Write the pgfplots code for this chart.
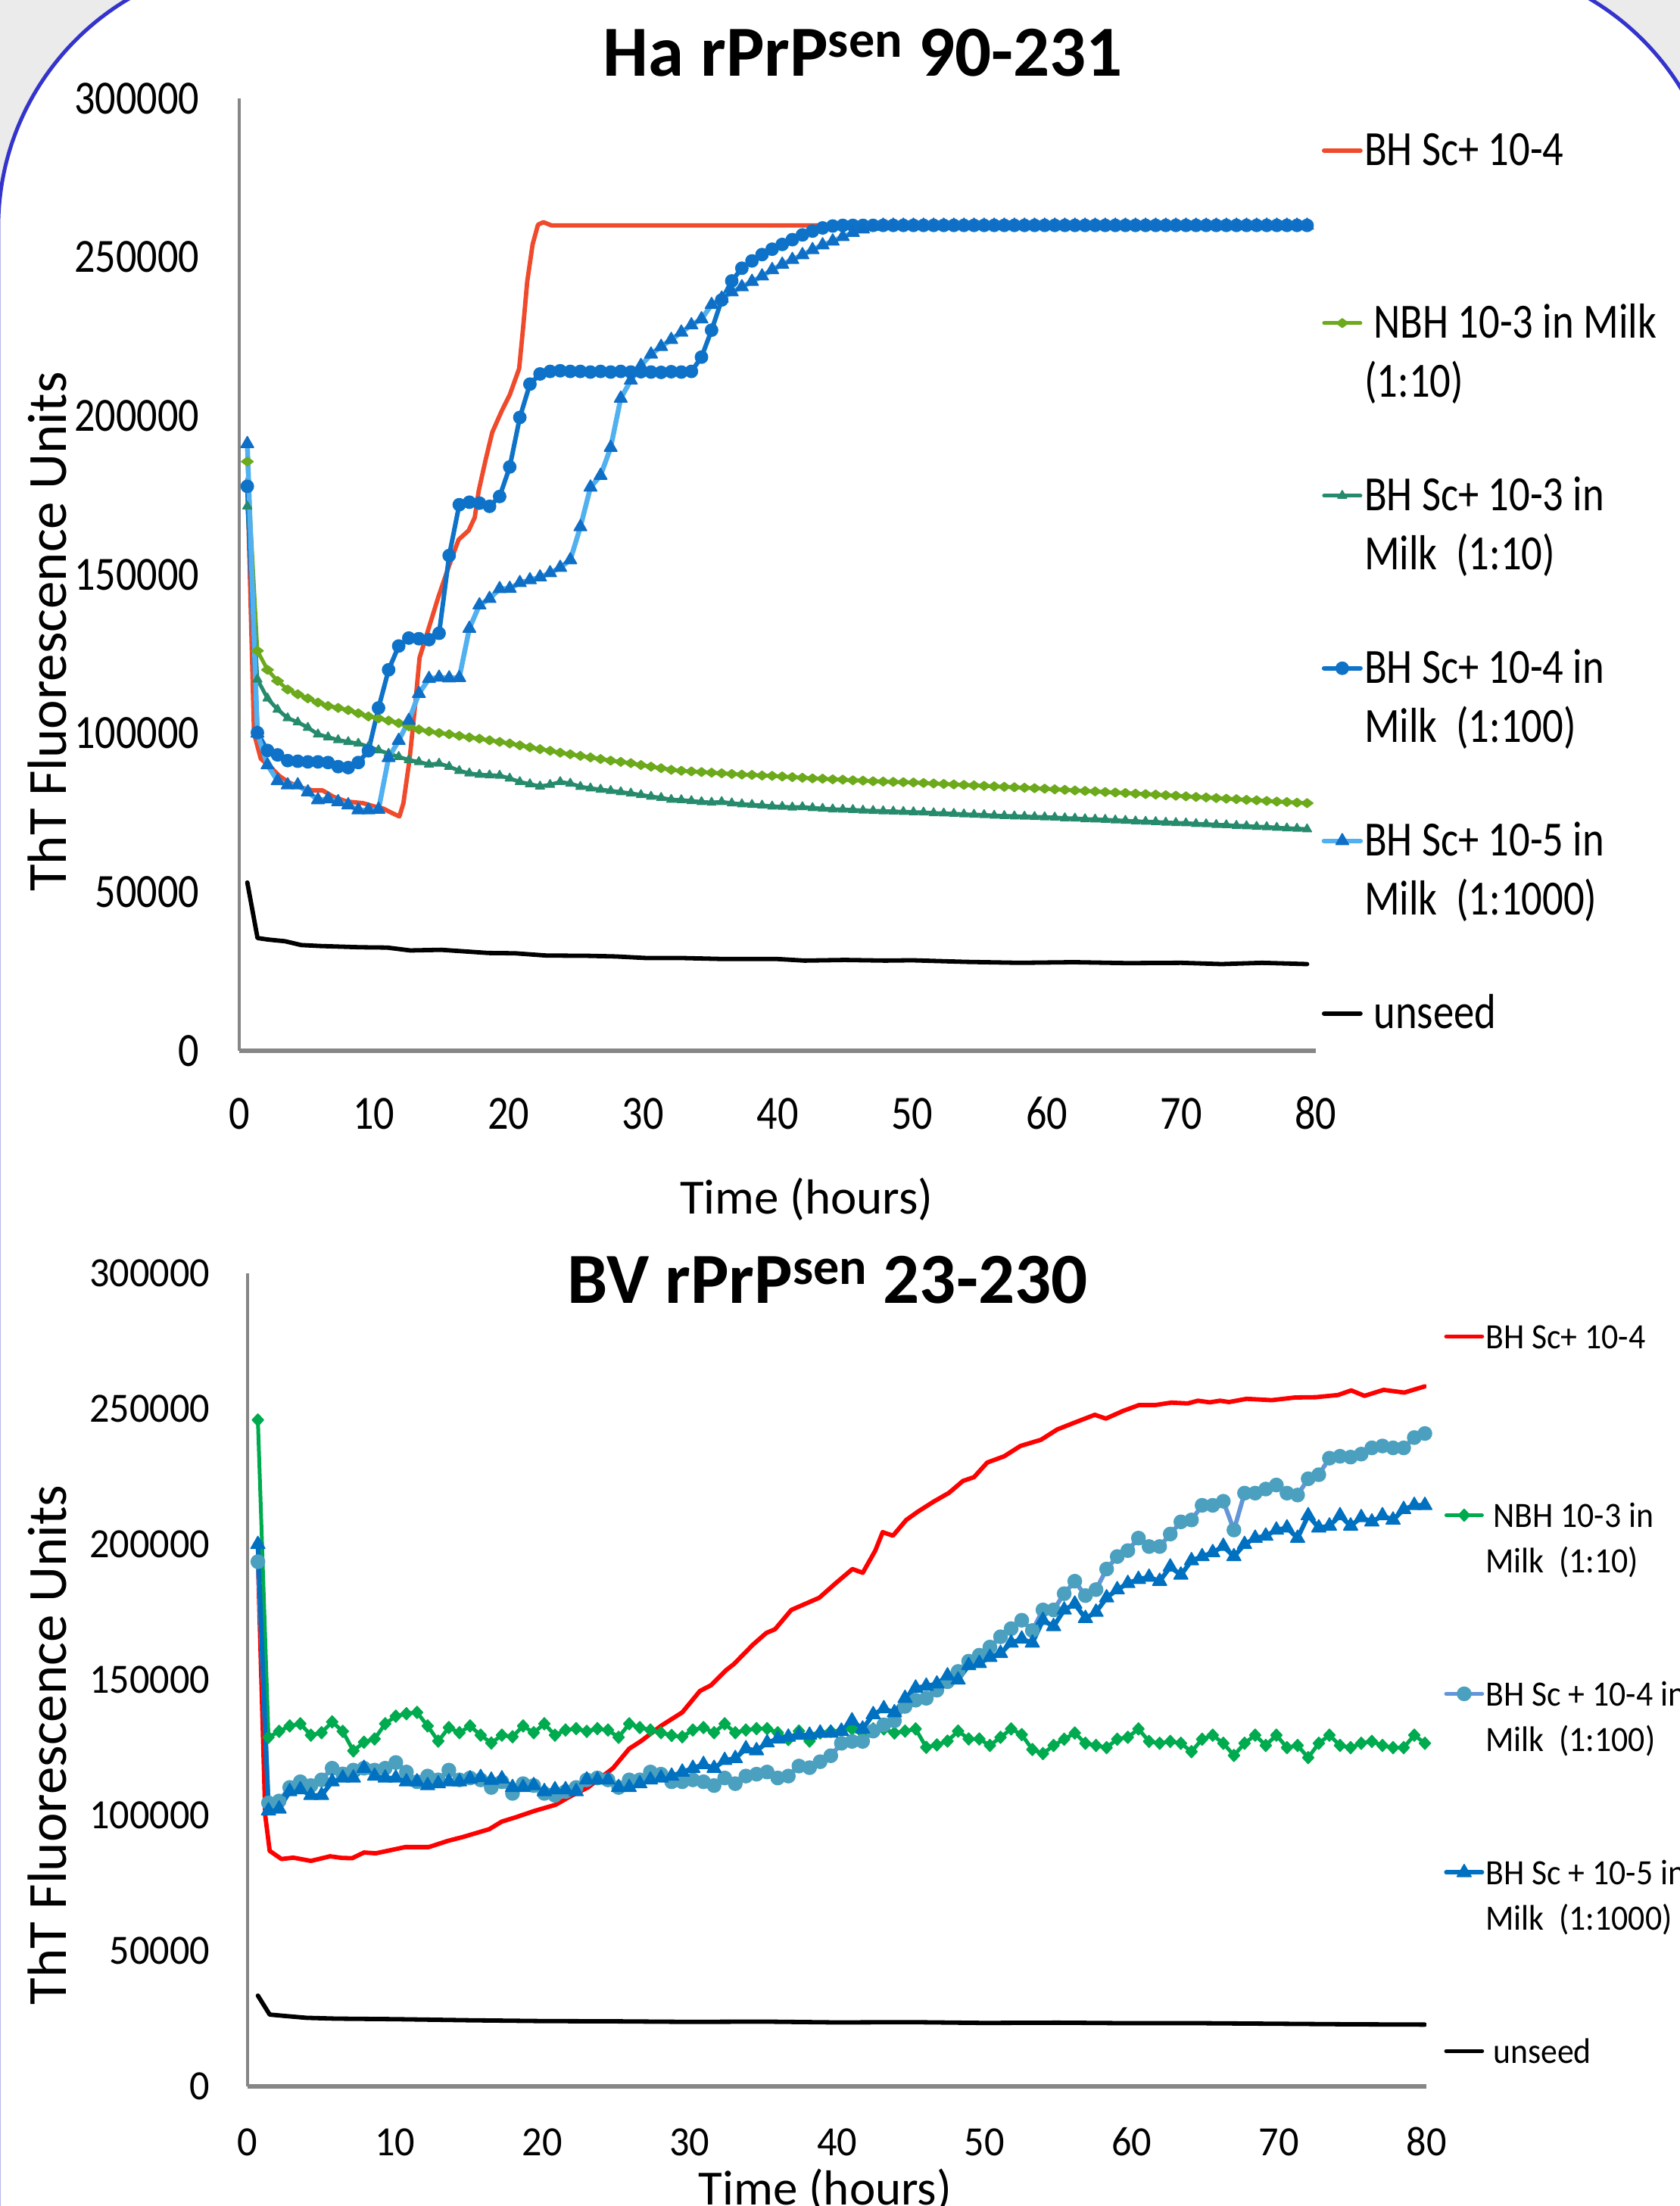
\documentclass[border=0pt]{standalone}
\usepackage{fontspec}
\setmainfont{Carlito}
\newfontfamily\tkA{Carlito}[FakeStretch=0.86]
\newfontfamily\tkB{Carlito}[FakeStretch=0.95]
\newfontfamily\lgA{Carlito}[FakeStretch=0.84]
\newfontfamily\lgB{Carlito}[FakeStretch=0.93]
\usepackage{pgfplots}
\pgfplotsset{compat=1.18}
\usepackage{pgfplotstable}

\definecolor{axgray}{HTML}{868686}
\definecolor{redA}{HTML}{EF4A2B}
\definecolor{ngA}{HTML}{6CAA1C}
\definecolor{dgA}{HTML}{268A6C}
\definecolor{bcA}{HTML}{0E73C8}
\definecolor{btlA}{HTML}{50B0F0}
\definecolor{btmA}{HTML}{0F6FC6}
\definecolor{redB}{HTML}{FF0000}
\definecolor{ngB}{HTML}{00AA4E}
\definecolor{bclB}{HTML}{6495D8}
\definecolor{bcmB}{HTML}{4BA0BF}
\definecolor{btB}{HTML}{0070C0}
\definecolor{bgG}{HTML}{EBEBEB}
\definecolor{frameC}{HTML}{3434CC}

\newcommand{\one}[1]{\vtop{\hbox{\strut #1}}}
\newcommand{\two}[2]{\vtop{\hbox{\strut #1}\hbox{\strut #2}}}

% top chart: t, NBH 10-3 in milk, BH Sc+ 10-3 in milk, BH Sc+ 10-4 in milk, BH Sc+ 10-5 in milk
\pgfplotstableread{
t ng dg bc bt
0.6 185600 171500 177800 191200
1.35 126000 117000 100200 100000
2.1 120000 111000 94600 90000
2.85 116500 107500 93200 85000
3.6 113800 104800 91400 83700
4.35 112300 103500 91200 83700
5.1 111000 101800 91000 81500
5.85 109700 99700 91000 79000
6.6 108600 98800 90800 79300
7.35 108000 97900 89500 78400
8.1 107300 97300 89200 77400
8.85 106300 96800 90800 75800
9.6 105300 95800 94500 75800
10.35 104700 94700 108000 76000
11.1 104000 93600 120000 92300
11.85 103200 92600 127500 97700
12.6 102200 91600 130000 104000
13.35 101200 91000 129800 112500
14.1 100600 90200 129500 117200
14.85 100100 90500 131500 117600
15.6 99700 89500 156000 117400
16.35 99200 88200 172000 117500
17.1 98700 87400 172800 133000
17.85 98300 87000 172500 140400
18.6 97800 86800 171500 142400
19.35 97300 86700 174600 145500
20.1 96800 85800 183900 145600
20.85 96200 84700 199500 147400
21.6 95600 84000 210000 148300
22.35 95000 83300 213200 149200
23.1 94500 83800 214000 150500
23.85 93900 84700 214200 152200
24.6 93400 84200 214000 154600
25.35 92900 83200 214000 165000
26.1 92400 82700 213800 177500
26.85 91900 82300 214000 181200
27.6 91400 81900 213800 190000
28.35 91000 81500 214000 205500
29.1 90600 81100 213800 211200
29.85 90000 80600 213900 215800
30.6 89500 80100 213800 219400
31.35 89000 79700 213700 221800
32.1 88500 79100 213900 224000
32.85 88200 79000 213800 226300
33.6 88000 78700 214000 228600
34.35 87800 78400 218500 230500
35.1 87600 78200 227000 235000
35.85 87400 78400 236500 237000
36.6 87200 78000 242500 239000
37.35 87000 77700 246500 240600
38.1 86900 77500 248800 242300
38.85 86700 77300 250800 244000
39.6 86600 77000 252500 246000
40.35 86400 76900 254000 247700
41.1 86200 76700 255500 249200
41.85 86000 76800 257000 250700
42.6 85800 76500 258200 252300
43.35 85700 76300 259200 253800
44.1 85500 76100 259800 255000
44.85 85400 76000 260000 256400
45.6 85200 75900 260000 257700
46.35 85100 75700 260000 258800
47.1 84900 75600 260000 259600
47.85 84800 75500 260000 260000
48.6 84700 75400 260000 260000
49.35 84600 75300 260000 260000
50.1 84500 75200 260000 260000
50.85 84350 75100 260000 260000
51.6 84200 74900 260000 260000
52.35 84050 74800 260000 260000
53.1 83900 74700 260000 260000
53.85 83750 74500 260000 260000
54.6 83600 74400 260000 260000
55.35 83450 74300 260000 260000
56.1 83300 74100 260000 260000
56.85 83150 74000 260000 260000
57.6 83000 73900 260000 260000
58.35 82850 73800 260000 260000
59.1 82700 73700 260000 260000
59.85 82550 73600 260000 260000
60.6 82350 73500 260000 260000
61.35 82200 73300 260000 260000
62.1 82000 73200 260000 260000
62.85 81850 73000 260000 260000
63.6 81700 72900 260000 260000
64.35 81500 72800 260000 260000
65.1 81350 72600 260000 260000
65.85 81200 72500 260000 260000
66.6 81000 72300 260000 260000
67.35 80850 72200 260000 260000
68.1 80700 72100 260000 260000
68.85 80500 71900 260000 260000
69.6 80350 71800 260000 260000
70.35 80150 71700 260000 260000
71.1 79950 71500 260000 260000
71.85 79800 71400 260000 260000
72.6 79600 71200 260000 260000
73.35 79400 71100 260000 260000
74.1 79250 70900 260000 260000
74.85 79050 70800 260000 260000
75.6 78900 70600 260000 260000
76.35 78700 70500 260000 260000
77.1 78500 70300 260000 260000
77.85 78350 70100 260000 260000
78.6 78150 70000 260000 260000
79.35 78000 69800 260000 260000
}\toptab

% bottom chart: t, NBH 10-3 in milk, BH Sc + 10-4 in milk, BH Sc + 10-5 in milk
\pgfplotstableread{
t g c tr
0.7 245900 193600 200000
1.42 128800 104600 101700
2.14 131000 105300 102400
2.86 133000 110300 108800
3.58 133800 112400 109500
4.3 129600 111000 107400
5.02 130500 113100 107400
5.74 134500 117400 112400
6.46 131000 115300 113800
7.18 123800 116700 113800
7.9 127000 117400 117400
8.62 128200 116700 114500
9.34 133800 117400 113800
10.06 136600 119500 113800
10.78 137500 116000 112400
11.5 138000 112400 112400
12.22 133000 114500 111000
12.94 127400 113100 111700
13.66 132400 116700 112400
14.38 130500 113100 112400
15.1 133000 113800 113500
15.82 129600 113100 114000
16.54 126700 110300 113000
17.26 129600 112400 113500
17.98 129000 108100 110300
18.7 133000 111700 110300
19.42 130500 111000 111000
20.14 133800 108100 108800
20.86 129600 107400 109500
21.58 131500 108800 109500
22.3 132000 110300 108800
23.02 131000 113100 113100
23.74 132000 113800 113100
24.46 131500 113100 113100
25.18 128800 110300 110300
25.9 133800 113100 110300
26.62 132400 113100 111700
27.34 131500 116000 113100
28.06 130500 115200 113800
28.78 129500 112400 114500
29.5 129000 112400 116000
30.22 131500 113100 117400
30.94 132400 112400 118800
31.66 130500 111000 117400
32.38 133800 113800 120300
33.1 130500 111700 121000
33.82 131500 114500 124600
34.54 132000 115200 123900
35.26 132000 116000 126800
35.98 130500 113800 128200
36.7 128000 114500 128900
37.42 131100 118200 129600
38.14 127400 117600 129600
38.86 130400 119800 130400
39.58 131000 122000 130400
40.3 131200 126600 131100
41.02 131900 127300 134900
41.74 130400 127300 131900
42.46 131900 131100 137200
43.18 131900 133400 139400
43.9 130400 134900 137900
44.62 131100 140200 143200
45.34 131900 142500 147000
46.06 125100 143200 147700
46.78 126000 146200 148500
47.5 127400 149300 151500
48.22 131100 153100 150000
48.94 128200 156900 155300
49.66 128200 159100 156100
50.38 125800 162100 158300
51.1 128800 165900 159800
51.82 131900 168900 163600
52.54 129800 172000 165100
53.26 124300 168200 163600
53.98 122800 175800 172000
54.7 125800 175800 169700
55.42 128100 181800 175800
56.14 130400 186400 178000
56.86 126600 181100 172700
57.58 125800 183300 175000
58.3 125000 190900 180300
59.02 128100 195500 183300
59.74 128800 197700 185600
60.46 131900 202300 187100
61.18 127300 199200 187900
61.9 126600 199200 186400
62.62 127300 203800 191700
63.34 126600 208300 188700
64.06 123500 209000 194000
64.78 128100 214400 195500
65.5 129600 214400 197000
66.22 126600 215900 199300
66.94 122100 205300 195500
67.66 126600 218900 200000
68.38 129600 218900 202300
69.1 125800 220400 203100
69.82 129600 221900 205300
70.54 125000 218900 206100
71.26 125800 218200 202300
71.98 121300 224200 210600
72.7 126600 225700 206100
73.42 129600 231800 206800
74.14 125800 232500 210600
74.86 125000 232200 206800
75.58 126600 233300 209900
76.3 127300 235600 208300
77.02 125800 236300 210600
77.74 125000 235600 209000
78.46 125000 235600 212900
79.18 129600 239400 214400
79.9 126600 240900 214400
}\bottab

\pgfplotsset{
  common/.style={
    scale only axis,
    xmin=0, xmax=80, ymin=0, ymax=300000,
    axis lines=left, axis line style={-},
    x axis line style={line width=0.057cm, draw=axgray, -},
    y axis line style={line width=0.045cm, draw=axgray, -},
    major tick length=0pt, tick style={draw=none},
    xtick={0,10,...,80}, ytick={0,50000,...,300000},
    scaled y ticks=false, scaled x ticks=false,
    /pgf/number format/fixed,
    /pgf/number format/precision=0,
    /pgf/number format/assume math mode=true,
    /pgf/number format/1000 sep={},
    xlabel={Time (hours)}, ylabel={ThT Fluorescence Units},
    every axis plot/.append style={line join=round, line cap=round},
  },
}

\begin{document}
\begin{tikzpicture}
\useasboundingbox (0,0) rectangle (22.19cm,29.14cm);
\fill[bgG] (0,0) rectangle (22.19cm,29.14cm);
\begin{scope}
\clip (0,0) rectangle (22.19cm,29.14cm);
\draw[frameC, line width=0.05cm, fill=white, rounded corners=3.5cm] (-0.022cm,-10cm) rectangle (22.72cm,29.64cm);
\end{scope}

% ---------------- top chart ----------------
\begin{axis}[common,
  at={(3.16cm,15.26cm)}, anchor=south west,
  width=14.22cm, height=12.58cm,
  ticklabel style={font=\tkA\fontsize{0.63cm}{0.75cm}\selectfont, inner sep=0pt},
  yticklabel style={anchor=east, xshift=-0.52cm},
  xticklabel style={anchor=base, yshift=-1.04cm},
  xlabel style={at={(axis description cs:0.527,-0.1717)}, anchor=base, inner sep=0pt,
    font=\fontsize{0.65cm}{0.75cm}\selectfont},
  ylabel style={at={(axis description cs:-0.161,0.44)}, anchor=base, inner sep=0pt,
    font=\fontsize{0.73cm}{0.8cm}\selectfont},
  title={Ha rPrP\raisebox{0.25cm}{\fontsize{0.68cm}{0.7cm}\selectfont sen} 90-231},
  title style={at={(axis description cs:0.5795,1.0064)}, anchor=base, inner sep=0pt,
    font=\bfseries\fontsize{0.95cm}{1cm}\selectfont},
  legend style={draw=none, fill=none, inner sep=0pt, column sep=0.02cm,
    row sep={2.28cm,between origins},
    nodes={inner sep=0pt, text depth=0pt}, cells={anchor=base west},
    at={(1.0049,0.9734)}, anchor=north west,
    font=\lgA\fontsize{0.65cm}{0.78cm}\selectfont},
  legend image code/.code={\draw[mark repeat=2,mark phase=2,#1]
    plot coordinates {(0cm,0.2cm) (0.24cm,0.2cm) (0.48cm,0.2cm)};},
]
\addplot[redA, line width=0.058cm, no marks] coordinates {
(0.6,180000) (1.1,100000) (1.6,92000) (2.3,89500) (3,86500) (3.7,84500) (4.5,83000)
(5.5,82000) (6.2,82000) (7,80000) (8,78500) (9.2,78000) (10,77000) (10.7,76300)
(11.3,75000) (11.9,73800) (12.2,78000) (12.66,91900) (13.1,110100) (13.4,123800)
(14.05,132700) (14.8,143000) (15.6,152900) (16.3,161000) (17.05,163900) (17.5,168000)
(17.8,176500) (18.3,186000) (18.8,194800) (19.5,201500) (20.1,206600) (20.8,214900)
(21.1,228000) (21.4,242300) (21.8,254000) (22.2,260200) (22.6,261000) (23.2,260000)
(79.35,260000)};
\addlegendentry{\one{BH Sc+ 10-4}}
\addplot[ngA, line width=0.05cm, mark=diamond*, mark size=0.078cm,
  mark options={rotate=90, fill=ngA, draw=ngA, line width=0.015cm}]
  table[x=t, y=ng]{\toptab};
\addlegendentry{\two{\ NBH 10-3 in Milk}{(1:10)}}
\addplot[dgA, line width=0.05cm, mark=triangle*, mark size=0.068cm,
  mark options={fill=dgA, draw=dgA, line width=0.015cm}]
  table[x=t, y=dg]{\toptab};
\addlegendentry{\two{BH Sc+ 10-3 in}{Milk\ \ (1:10)}}
\addplot[bcA, line width=0.06cm, mark=*, mark size=0.082cm,
  mark options={fill=bcA, draw=bcA, line width=0.015cm}]
  table[x=t, y=bc]{\toptab};
\addlegendentry{\two{BH Sc+ 10-4 in}{Milk\ \ (1:100)}}
\addplot[btlA, line width=0.065cm, mark=triangle*, mark size=0.097cm,
  mark options={fill=btmA, draw=btmA, line width=0.015cm}]
  table[x=t, y=bt]{\toptab};
\addlegendentry{\two{BH Sc+ 10-5 in}{Milk\ \ (1:1000)}}
\addplot[black, line width=0.058cm, no marks] coordinates {
(0.6,53000) (1.36,35500) (2.2,35000) (3.4,34500) (4.6,33300) (6,33000) (9,32600)
(11,32500) (12.7,31600) (15,31800) (18.5,30800) (20.5,30700) (22.8,30000) (26,29900)
(28,29700) (30.3,29200) (33,29200) (36,28900) (40,28900) (42,28400) (45,28600)
(48,28400) (50,28500) (54,28000) (58,27700) (62,27900) (66,27600) (70,27700)
(73,27300) (76,27700) (79.35,27300)};
\addlegendentry{\one{\ unseed}}
\end{axis}

% ---------------- bottom chart ----------------
\begin{axis}[common,
  at={(3.27cm,1.58cm)}, anchor=south west,
  width=15.57cm, height=10.74cm,
  ticklabel style={font=\tkB\fontsize{0.55cm}{0.66cm}\selectfont, inner sep=0pt},
  yticklabel style={anchor=east, xshift=-0.49cm},
  xticklabel style={anchor=base, yshift=-0.91cm},
  xlabel style={at={(axis description cs:0.49,-0.1453)}, anchor=base, inner sep=0pt,
    font=\fontsize{0.65cm}{0.75cm}\selectfont},
  ylabel style={at={(axis description cs:-0.1541,0.42)}, anchor=base, inner sep=0pt,
    font=\fontsize{0.73cm}{0.8cm}\selectfont},
  title={BV rPrP\raisebox{0.25cm}{\fontsize{0.68cm}{0.7cm}\selectfont sen} 23-230},
  title style={at={(axis description cs:0.492,0.9432)}, anchor=base, inner sep=0pt,
    font=\bfseries\fontsize{0.95cm}{1cm}\selectfont},
  legend style={draw=none, fill=none, inner sep=0pt, column sep=0.02cm,
    row sep={2.36cm,between origins},
    nodes={inner sep=0pt, text depth=0pt}, cells={anchor=base west},
    at={(1.01458,0.9469)}, anchor=north west,
    font=\lgB\fontsize{0.47cm}{0.596cm}\selectfont},
  legend image code/.code={\draw[mark repeat=2,mark phase=2,#1]
    plot coordinates {(0cm,0.16cm) (0.235cm,0.16cm) (0.47cm,0.16cm)};},
]
\addplot[redB, line width=0.058cm, no marks] coordinates {
(0.7,195000) (1.2,100000) (1.5,86900) (2.3,83900) (3.1,84400) (4.3,83200) (5.6,84900)
(6.4,84300) (7.1,84200) (7.9,86300) (8.7,86000) (10.7,88300) (12.3,88300) (13.6,90600)
(14.6,92000) (16.4,94900) (17.25,97700) (18.2,99300) (19.5,101700) (20.9,103900)
(21.8,106700) (23.1,110300) (24.8,117400) (25.9,124600) (26.7,127400) (28.05,133000)
(29.5,138000) (30.7,145900) (31.45,148000) (32.5,153700) (33.0,155800) (34.3,163000)
(35.2,167300) (35.8,168700) (36.9,175800) (38.8,180300) (39.9,185600) (41.05,190900)
(41.75,189500) (42.6,197700) (43.1,204500) (43.8,203200) (44.7,209000) (45.5,212100)
(46.6,215900) (47.6,219000) (48.55,223400) (49.3,224800) (50.2,230200) (51.35,232500)
(52.45,236300) (53.85,238600) (54.95,242400) (56.35,245400) (57.5,247800) (58.25,246400)
(59.4,249200) (60.5,251400) (61.6,251400) (62.7,252300) (63.8,252000) (64.5,253000)
(65.3,252400) (66,253000) (66.6,252500) (67.8,253700) (69.5,253200) (71.1,254200)
(72.5,254300) (74.0,255100) (74.9,256800) (75.8,254800) (77.1,257000) (78.5,256000)
(79.9,258300)};
\addlegendentry{\one{BH Sc+ 10-4}}
\addplot[ngB, line width=0.05cm, mark=diamond*, mark size=0.08cm,
  mark options={xscale=1.25, fill=ngB, draw=ngB, line width=0.015cm}]
  table[x=t, y=g]{\bottab};
\addlegendentry{\two{\ NBH 10-3 in}{Milk\ \ (1:10)}}
\addplot[bclB, line width=0.058cm, mark=*, mark size=0.09cm,
  mark options={fill=bcmB, draw=bcmB, line width=0.015cm}]
  table[x=t, y=c]{\bottab};
\addlegendentry{\two{BH Sc + 10-4 in}{Milk\ \ (1:100)}}
\addplot[btB, line width=0.06cm, mark=triangle*, mark size=0.107cm,
  mark options={fill=btB, draw=btB, line width=0.015cm}]
  table[x=t, y=tr]{\bottab};
\addlegendentry{\two{BH Sc + 10-5 in}{Milk\ \ (1:1000)}}
\addplot[black, line width=0.058cm, no marks] coordinates {
(0.7,33500) (1.5,26500) (2.5,26000) (4,25300) (6,25000) (10,24800) (15,24400)
(20,24100) (25,24000) (30,23800) (35,23900) (40,23600) (45,23700) (50,23400)
(55,23500) (60,23300) (65,23300) (70,23100) (75,22900) (79.9,22800)};
\addlegendentry{\one{\ unseed}}
\end{axis}
\end{tikzpicture}
\end{document}
